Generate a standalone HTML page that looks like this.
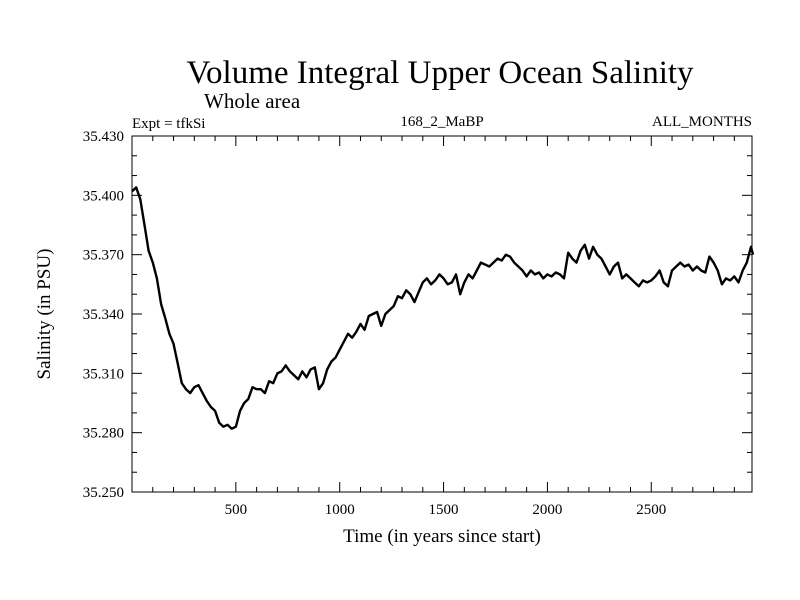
<!DOCTYPE html>
<html><head><meta charset="utf-8"><style>
body{margin:0;background:#fff}
svg{display:block;font-family:"Liberation Serif",serif}
</style></head><body>
<svg id="chart" width="800" height="600">
<text x="440" y="83" font-size="33" text-anchor="middle">Volume Integral Upper Ocean Salinity</text>
<text x="204" y="108" font-size="21">Whole area</text>
<text x="132" y="128" font-size="15">Expt = tfkSi</text>
<text x="442" y="126" font-size="15" text-anchor="middle">168_2_MaBP</text>
<text x="752" y="126" font-size="15" text-anchor="end">ALL_MONTHS</text>
<text x="442" y="542" font-size="19" text-anchor="middle">Time (in years since start)</text>
<text transform="translate(50,314) rotate(-90)" font-size="19" text-anchor="middle">Salinity (in PSU)</text>
<g id="axes"></g>
<path id="line" fill="none" stroke="#000" stroke-width="2.4" stroke-linejoin="round"/>
<rect x="132" y="136" width="620" height="356" fill="none" stroke="#000" stroke-width="1"/>
</svg>
<script>
const years=[0,20,40,60,80,100,120,140,160,180,200,220,240,260,280,300,320,340,360,380,400,420,440,460,480,500,520,540,560,580,600,620,640,660,680,700,720,740,760,780,800,820,840,860,880,900,920,940,960,980,1000,1020,1040,1060,1080,1100,1120,1140,1160,1180,1200,1220,1240,1260,1280,1300,1320,1340,1360,1380,1400,1420,1440,1460,1480,1500,1520,1540,1560,1580,1600,1620,1640,1660,1680,1700,1720,1740,1760,1780,1800,1820,1840,1860,1880,1900,1920,1940,1960,1980,2000,2020,2040,2060,2080,2100,2120,2140,2160,2180,2200,2220,2240,2260,2280,2300,2320,2340,2360,2380,2400,2420,2440,2460,2480,2500,2520,2540,2560,2580,2600,2620,2640,2660,2680,2700,2720,2740,2760,2780,2800,2820,2840,2860,2880,2900,2920,2940,2960,2980,2990];
const salinity=[35.402,35.404,35.398,35.385,35.372,35.366,35.358,35.345,35.338,35.330,35.325,35.315,35.305,35.302,35.300,35.303,35.304,35.300,35.296,35.293,35.291,35.285,35.283,35.284,35.282,35.283,35.291,35.295,35.297,35.303,35.302,35.302,35.300,35.306,35.305,35.310,35.311,35.314,35.311,35.309,35.307,35.311,35.308,35.312,35.313,35.302,35.305,35.312,35.316,35.318,35.322,35.326,35.330,35.328,35.331,35.335,35.332,35.339,35.340,35.341,35.334,35.340,35.342,35.344,35.349,35.348,35.352,35.350,35.346,35.351,35.356,35.358,35.355,35.357,35.360,35.358,35.355,35.356,35.360,35.350,35.356,35.360,35.358,35.362,35.366,35.365,35.364,35.366,35.368,35.367,35.370,35.369,35.366,35.364,35.362,35.359,35.362,35.360,35.361,35.358,35.360,35.359,35.361,35.360,35.358,35.371,35.368,35.366,35.372,35.375,35.368,35.374,35.370,35.368,35.364,35.360,35.364,35.366,35.358,35.360,35.358,35.356,35.354,35.357,35.356,35.357,35.359,35.362,35.356,35.354,35.362,35.364,35.366,35.364,35.365,35.362,35.364,35.362,35.361,35.369,35.366,35.362,35.355,35.358,35.357,35.359,35.356,35.362,35.366,35.374,35.370];
const xTickLabels=[500,1000,1500,2000,2500];
const yTickLabels=["35.250","35.280","35.310","35.340","35.370","35.400","35.430"];

const L=132,R=752,T=136,B=492,X0=0,X1=2985,Y0=35.25,Y1=35.43;
function sx(v){return L+(v-X0)/(X1-X0)*(R-L);}
function sy(v){return B-(v-Y0)/(Y1-Y0)*(B-T);}
const NS="http://www.w3.org/2000/svg";
const axes=document.getElementById('axes');
function ln(x1,y1,x2,y2,name){const e=document.createElementNS(NS,'line');
e.setAttribute('x1',x1);e.setAttribute('y1',y1);e.setAttribute('x2',x2);e.setAttribute('y2',y2);
e.setAttribute('stroke','#000');e.setAttribute('stroke-width','1');


axes.appendChild(e);}
function tx(x,y,s,anchor,name){const e=document.createElementNS(NS,'text');
e.setAttribute('x',x);e.setAttribute('y',y);e.setAttribute('font-size','15');e.setAttribute('text-anchor',anchor);e.textContent=s;


axes.appendChild(e);}
for(let v=100;v<X1;v+=100){const x=sx(v);const major=v%500===0;const l=major?10:5;
ln(x,B,x,B-l,'x-tick');ln(x,T,x,T+l,'x-tick-top');}
xTickLabels.forEach(v=>tx(sx(v),B+22,String(v),'middle','x-tick-label'));
for(let i=0;i<=18;i++){const v=Y0+i*0.01;const y=sy(v);const major=i%3===0;const l=major?10:5;
ln(L,y,L+l,y,'y-tick');ln(R,y,R-l,y,'y-tick-right');}
yTickLabels.forEach(s=>tx(L-8,sy(parseFloat(s))+5,s,'end','y-tick-label'));
let d='';years.forEach((yr,i)=>{d+=(i?'L':'M')+sx(yr).toFixed(1)+','+sy(salinity[i]).toFixed(1);});
document.getElementById('line').setAttribute('d',d);
</script>
</body></html>
